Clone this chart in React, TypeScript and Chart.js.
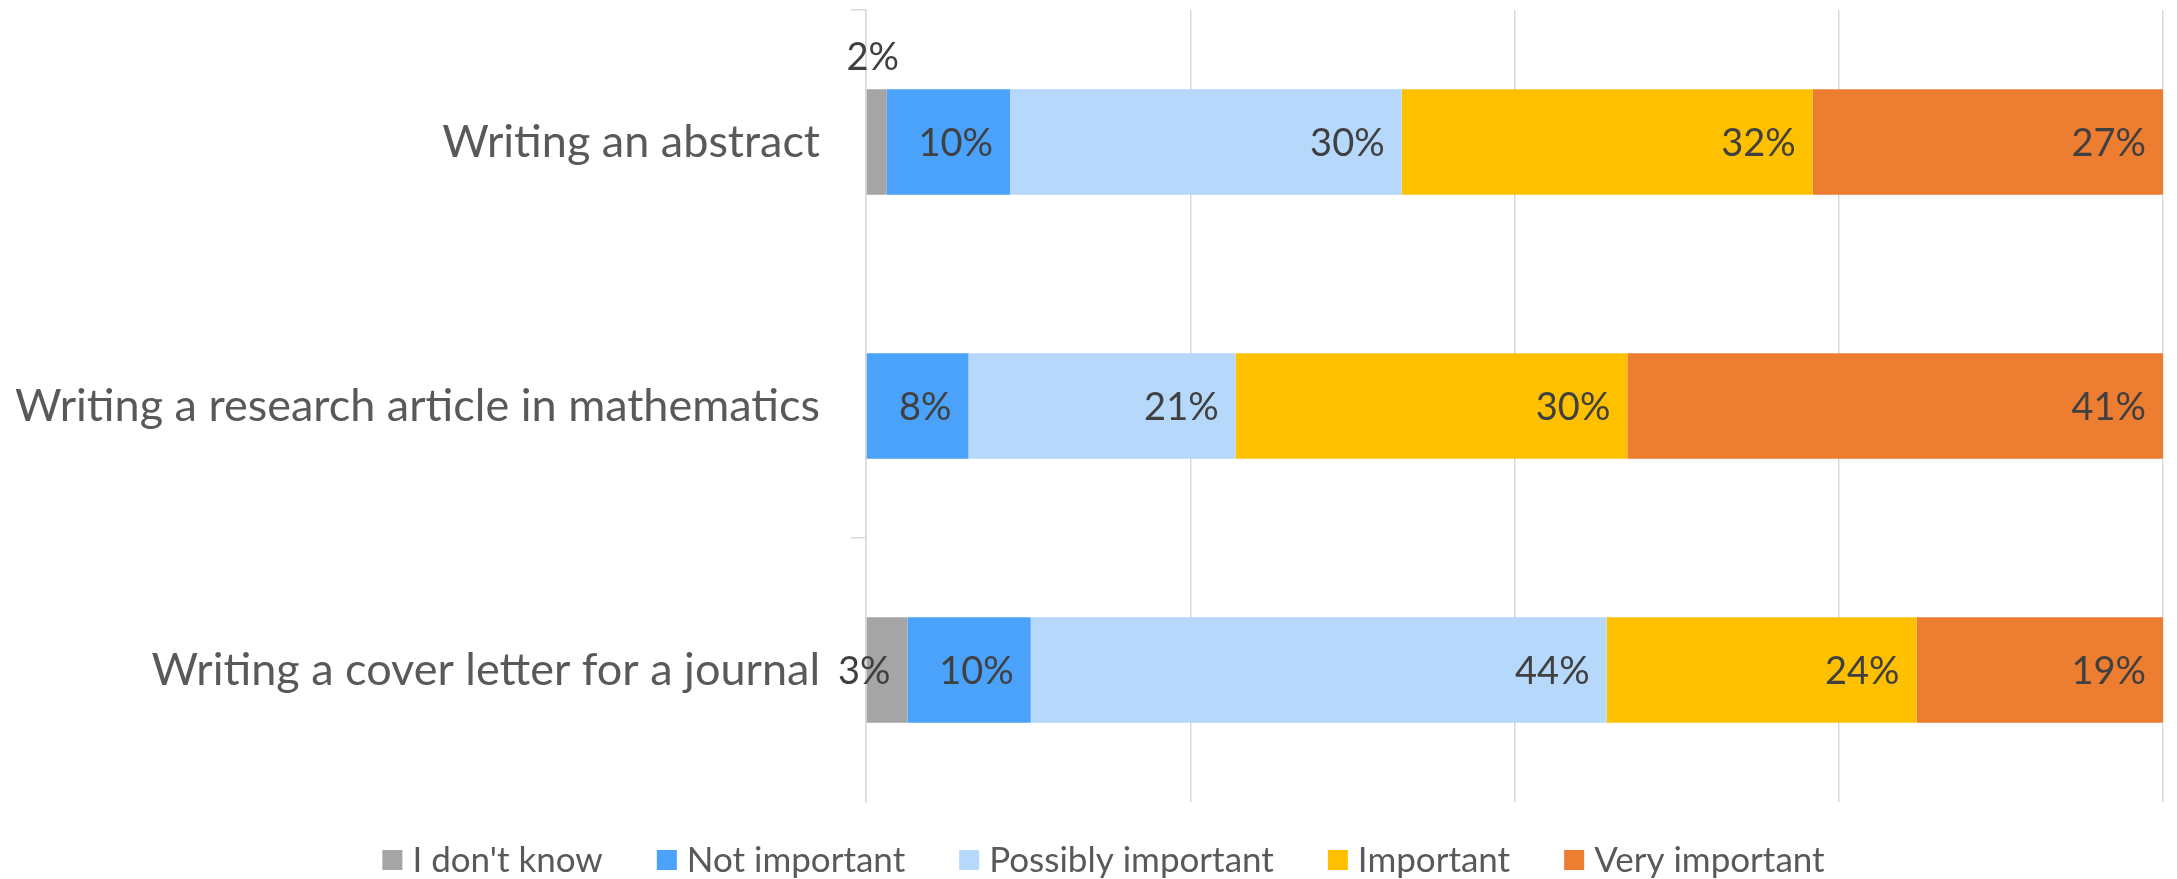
import React, { useEffect, useRef } from "react";
import { Chart, registerables } from "chart.js";

Chart.register(...registerables);

const categories = [
  "Writing an abstract",
  "Writing a research article in mathematics",
  "Writing a cover letter for a journal",
];
const seriesNames = ["I don't know", "Not important", "Possibly important", "Important", "Very important"];
const dontKnow = [1.6, 0, 3.2];
const notImportant = [9.5, 7.9, 9.5];
const possiblyImportant = [30.2, 20.6, 44.4];
const important = [31.7, 30.2, 23.9];
const veryImportant = [27.0, 41.3, 19.0];
const seriesColors = ["#A5A5A5", "#4AA2FA", "#B6D9FB", "#FFC000", "#ED7D31"];
const xTicks = [0, 25, 50, 75, 100];
const shownCategoryTicks = [0, 2];

const FONT = "Lato";
const CAT_SIZE = 45;
const LABEL_SIZE = 38;
const LEGEND_SIZE = 35;

const segLabels = {
  id: "segLabels",
  afterDatasetsDraw(chart: any) {
    const ctx = chart.ctx;
    ctx.save();
    ctx.font = `${LABEL_SIZE}px ${FONT}`;
    ctx.fillStyle = "#404040";
    ctx.textBaseline = "middle";
    chart.data.datasets.forEach((ds: any, di: number) => {
      const meta = chart.getDatasetMeta(di);
      meta.data.forEach((el: any, i: number) => {
        const v = ds.data[i];
        if (!v) return;
        const p = el.getProps(["x", "y", "base", "height"], true);
        const text = Math.round(v) + "%";
        const w = p.x - p.base;
        if (w < 30) {
          ctx.textAlign = "center";
          ctx.fillText(text, (p.x + p.base) / 2 - 4, p.y - p.height / 2 - 31);
        } else {
          ctx.textAlign = "right";
          ctx.fillText(text, p.x - 17, p.y + 2);
        }
      });
    });
    ctx.restore();
  },
};

const bottomLegend = {
  id: "bottomLegend",
  afterDraw(chart: any) {
    const ctx = chart.ctx;
    ctx.save();
    ctx.font = `${LEGEND_SIZE}px ${FONT}`;
    ctx.textBaseline = "middle";
    ctx.textAlign = "left";
    const box = 20;
    const gap = 10;
    const itemGap = 54;
    const widths = seriesNames.map((n) => ctx.measureText(n).width);
    const total = widths.reduce((a, w) => a + box + gap + w, 0) + itemGap * (seriesNames.length - 1);
    let x = chart.width / 2 + 15 - total / 2;
    const yc = 860;
    seriesNames.forEach((n, i) => {
      ctx.fillStyle = seriesColors[i];
      ctx.fillRect(x, yc - box / 2, box, box);
      ctx.fillStyle = "#595959";
      ctx.fillText(n, x + box + gap, yc + 1);
      x += box + gap + widths[i] + itemGap;
    });
    ctx.restore();
  },
};

export default function App() {
  const ref = useRef<HTMLCanvasElement | null>(null);
  useEffect(() => {
    if (!ref.current) return;
    const series = [dontKnow, notImportant, possiblyImportant, important, veryImportant];
    const tickCol = (c: any) => (shownCategoryTicks.includes(c.index) ? "#D9D9D9" : "rgba(0,0,0,0)");
    const chart = new Chart(ref.current, {
      type: "bar",
      data: {
        labels: categories,
        datasets: series.map((d, i) => ({
          label: seriesNames[i],
          data: d,
          backgroundColor: seriesColors[i],
          borderWidth: 0,
          categoryPercentage: 0.5,
          barPercentage: 0.8,
        })),
      },
      options: {
        indexAxis: "y",
        responsive: true,
        maintainAspectRatio: false,
        animation: false,
        layout: { padding: { left: 0, right: 14, top: 10, bottom: 77 } },
        scales: {
          x: {
            stacked: true,
            min: 0,
            max: 100,
            afterBuildTicks: (s: any) => {
              s.ticks = xTicks.map((v) => ({ value: v }));
            },
            ticks: { display: false },
            grid: { color: "#D9D9D9", lineWidth: 1.5, drawTicks: false },
            border: { display: false },
            afterFit: (s: any) => {
              s.height = 0;
              s.paddingLeft = 0;
              s.paddingRight = 0;
            },
          },
          y: {
            stacked: true,
            grid: {
              drawOnChartArea: false,
              drawTicks: true,
              tickLength: 15,
              color: tickCol,
              tickColor: tickCol,
              lineWidth: 1.5,
              offset: true,
            },
            border: { display: true, color: "#D9D9D9", width: 1.5 },
            ticks: { font: { family: FONT, size: CAT_SIZE }, color: "#595959", padding: 31 },
            afterFit: (s: any) => {
              s.width = 866;
              s.paddingTop = 0;
              s.paddingBottom = 0;
            },
          },
        },
        plugins: { legend: { display: false }, tooltip: { enabled: false } },
      } as any,
      plugins: [segLabels, bottomLegend],
    });
    return () => chart.destroy();
  }, []);
  return (
    <div style={{ position: "fixed", left: 0, top: 0, width: 2177, height: 879, background: "#fff" }}>
      <canvas ref={ref} />
    </div>
  );
}
